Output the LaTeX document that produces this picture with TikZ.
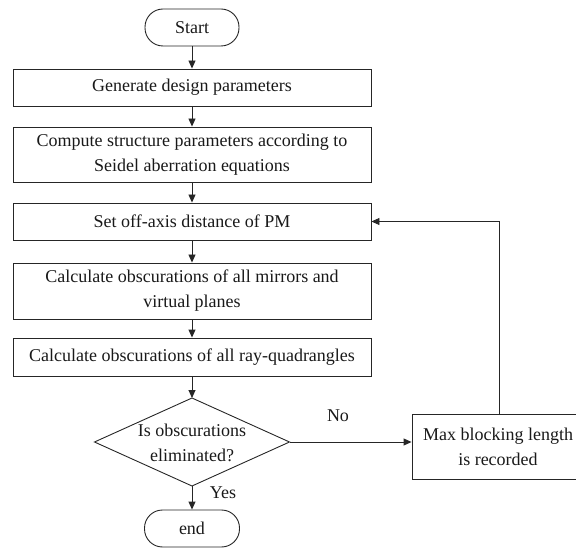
\documentclass[tikz,border=0pt]{standalone}
\usepackage{fontspec}
\setmainfont{Liberation Serif}
\usetikzlibrary{arrows.meta}
\begin{document}
\begin{tikzpicture}[x=1pt,y=-1pt,
  every node/.style={font=\fontsize{18}{25}\selectfont, text=black!90},
  procbox/.style={draw=black!85, line width=0.9pt, minimum width=358pt, inner sep=0pt, align=center},
  term/.style={draw=black!85, line width=0.9pt, minimum width=94pt, minimum height=37pt, rounded corners=18pt, inner sep=0pt},
  decision/.style={inner sep=0pt, align=center},
  edge/.style={draw=black!85, line width=0.9pt},
  flow/.style={draw=black!85, line width=0.9pt, -{Triangle[length=8pt,width=7pt]}},
  lbl/.style={font=\fontsize{18}{22}\selectfont}]
\useasboundingbox (0,0) rectangle (576,548);
\node[term] (start) at (192,27.5) {Start};
\node[procbox, minimum height=37pt] (b1) at (192,87.5) {Generate design parameters};
\node[procbox, minimum height=55pt] (b2) at (192,154.5) {Compute structure parameters according to\\Seidel aberration equations};
\node[procbox, minimum height=37pt] (b3) at (192,221.5) {Set off-axis distance of PM};
\node[procbox, minimum height=56pt] (b4) at (192,291) {Calculate obscurations of all mirrors and\\virtual planes};
\node[procbox, minimum height=38pt] (b5) at (192,357) {Calculate obscurations of all ray-quadrangles};
\node[decision] (d) at (192,443) {Is obscurations\\eliminated?};
\coordinate (dN) at (192,398);
\coordinate (dS) at (192,486);
\coordinate (dE) at (289.5,442);
\coordinate (dW) at (94.5,442);
\draw[edge] (dN) -- (dE) -- (dS) -- (dW) -- cycle;
\node[term, minimum width=95pt] (end) at (192,528.5) {end};
\node[procbox, minimum width=172pt, minimum height=65pt] (mb) at (498,446.5) {Max blocking length\\is recorded};
\coordinate (turn) at (499,221.5);
\draw[flow] (start) -- (b1);
\draw[flow] (b1) -- (b2);
\draw[flow] (b2) -- (b3);
\draw[flow] (b3) -- (b4);
\draw[flow] (b4) -- (b5);
\draw[flow] (b5) -- (dN);
\draw[flow] (dS) -- (end);
\draw[flow] (dE) -- (dE -| mb.west);
\draw[flow] (mb.north -| turn) -- (turn) -- (b3.east);
\node[lbl] (yes) at (223,493) {Yes};
\node[lbl] (no) at (338,416) {No};
\end{tikzpicture}
\end{document}
